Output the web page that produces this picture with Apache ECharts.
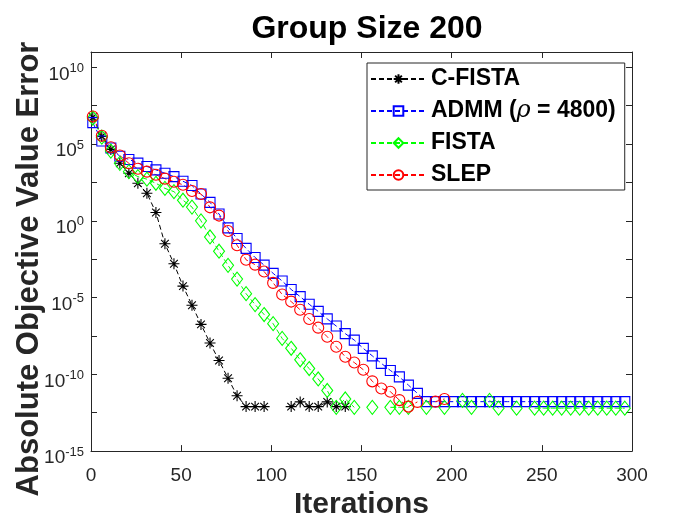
<!DOCTYPE html>
<html><head><meta charset="utf-8">
<script src="https://cdn.jsdelivr.net/npm/echarts@6/dist/echarts.min.js"></script>
<style>html,body{margin:0;padding:0;background:#fff}#c{width:700px;height:525px}</style>
</head><body><div id="c"></div>
<script>
// Iteration numbers at which markers are drawn
const iterations = [1,6,11,16,21,26,31,36,41,46,51,56,61,66,71,76,81,86,91,96,
  101,106,111,116,121,126,131,136,141,146,151,156,161,166,171,176,181,186,191,196,
  201,206,211,216,221,226,231,236,241,246,251,256,261,266,271,276,281,286,291,296];

// Absolute objective value error (null = not plotted, e.g. exactly zero)
const cfista = [5.6e6,3.2e5,4.5e4,5.6e3,1.26e3,280,63,3.5,3.2e-2,1.6e-3,
  5.6e-5,3.2e-6,1.8e-7,1.1e-8,7.9e-10,5.6e-11,4.0e-12,7.9e-13,7.9e-13,7.9e-13,
  null,null,7.9e-13,1.6e-12,7.9e-13,7.9e-13,1.6e-12,7.9e-13,7.9e-13];

const admm = [2.5e6,1.6e5,5.6e4,1.6e4,1.0e4,5.8e3,3.5e3,2.1e3,1.26e3,760,
  380,200,56,16,2.8,0.35,7.1e-2,1.6e-2,4.1e-3,1.3e-3,
  3.8e-4,1.2e-4,3.4e-5,1.15e-5,3.7e-6,1.26e-6,4.1e-7,1.4e-7,4.5e-8,1.7e-8,
  4.9e-9,1.6e-9,5.2e-10,1.8e-10,6.8e-11,2.0e-11,5.8e-12,1.66e-12,1.66e-12,1.66e-12,
  1.66e-12,1.66e-12,1.66e-12,1.66e-12,1.66e-12,1.66e-12,1.66e-12,1.66e-12,1.66e-12,1.66e-12,
  1.66e-12,1.66e-12,1.66e-12,1.66e-12,1.66e-12,1.66e-12,1.66e-12,1.66e-12,1.66e-12,1.66e-12];

const fista = [5.0e6,2.8e5,3.5e4,5.6e3,1.6e3,760,520,280,130,80,
  22,7.9,1.0,8.9e-2,1.05e-2,1.26e-3,1.6e-4,1.8e-5,3.5e-6,7.9e-7,
  2.0e-7,2.2e-8,5.0e-9,8.9e-10,2.4e-10,5.0e-11,8.9e-12,7.1e-13,2.5e-12,7.1e-13,
  null,7.1e-13,null,7.1e-13,7.1e-13,7.1e-13,null,7.1e-13,null,7.1e-13,
  null,2.0e-12,7.1e-13,null,2.0e-12,6.3e-13,null,6.3e-13,null,6.3e-13,
  6.3e-13,6.3e-13,6.3e-13,6.3e-13,6.3e-13,6.3e-13,6.3e-13,6.3e-13,6.3e-13,6.3e-13];

const slep = [6.3e6,3.5e5,6.3e4,1.8e4,5.6e3,2.5e3,1.6e3,1.0e3,560,355,
  224,89,56,7.6,2.2,0.22,2.6e-2,2.9e-3,1.4e-3,5.0e-4,
  9.1e-5,1.6e-5,5.5e-6,1.6e-6,4.0e-7,1.1e-7,2.8e-8,6.3e-9,1.4e-9,5.9e-10,
  2.0e-10,3.5e-11,1.2e-11,7.4e-12,2.1e-12,7.9e-13,1.6e-12,null,1.66e-12,2.5e-12];

const seriesNames = ['C-FISTA','ADMM (\u03c1 = 4800)','FISTA','SLEP'];
const xTicks = [0,50,100,150,200,250,300];
const yExponentTicks = [-15,-10,-5,0,5,10];

const FONT = '"Liberation Sans", Arial, sans-serif';
const AX = '#262626';
const starPath = 'path://M0,-10L0,10M-10,0L10,0M-7,-7L7,7M-7,7L7,-7';

function pairs(vals){ return vals.map((v,i)=>[iterations[i], v]); }

function mk(name, vals, color, symbol, size){
  return {
    name, type:'line', xAxisIndex:0, yAxisIndex:0, data:pairs(vals),
    symbol, symbolSize:size, showAllSymbol:true, connectNulls:false,
    lineStyle:{color, width:1, type:[5,3]},
    itemStyle:{color:'none', borderColor:color, borderWidth:1.1},
    emphasis:{disabled:true}, animation:false, z:2
  };
}

const chart = echarts.init(document.getElementById('c'), null, {renderer:'canvas'});
chart.setOption({
  animation:false,
  backgroundColor:'#fff',
  title:{text:'Group Size 200', left:362, textAlign:'center', top:8,
    textStyle:{fontSize:32, fontWeight:'bold', color:'#000', fontFamily:FONT}},
  grid:{left:91, right:68, top:52, bottom:68, containLabel:false},
  legend:{
    left:367, top:63, orient:'vertical', padding:[3,9,2,3], itemGap:6,
    itemWidth:55, itemHeight:12, borderColor:AX, borderWidth:1, backgroundColor:'#fff',
    data:seriesNames,
    textStyle:{fontSize:23, fontWeight:'bold', color:'#000', fontFamily:FONT, lineHeight:26,
      rich:{
        n:{fontSize:23, fontWeight:'bold', color:'#000', fontFamily:FONT, lineHeight:26},
        r:{fontSize:24, fontStyle:'italic', fontWeight:'normal', color:'#000', fontFamily:'"DejaVu Serif", "Liberation Serif", serif', lineHeight:26}
      }},
    formatter:function(name){
      if (name === seriesNames[1]) return '{n|ADMM (}{r|\u03c1}{n| = 4800)}';
      return '{n|' + name + '}';
    }
  },
  xAxis:[
    {type:'value', position:'bottom', min:xTicks[0], max:xTicks[xTicks.length-1], interval:50,
     axisLine:{show:true, onZero:false, lineStyle:{color:AX, width:1}},
     axisTick:{show:true, inside:true, length:6, lineStyle:{color:AX}},
     axisLabel:{fontSize:19, color:AX, margin:15, fontFamily:FONT},
     splitLine:{show:false},
     name:'Iterations', nameLocation:'middle', nameGap:35,
     nameTextStyle:{fontSize:30, fontWeight:'bold', color:AX, fontFamily:FONT}},
    {type:'value', position:'top', min:0, max:300, interval:50,
     axisLine:{show:true, onZero:false, lineStyle:{color:AX, width:1}},
     axisTick:{show:true, inside:true, length:6, lineStyle:{color:AX}},
     axisLabel:{show:false}, splitLine:{show:false}}
  ],
  yAxis:[
    {type:'log', logBase:10, min:1e-15, max:1e11, position:'left',
     axisLine:{show:true, onZero:false, lineStyle:{color:AX, width:1}},
     axisTick:{show:false}, axisLabel:{show:false}, splitLine:{show:false}, minorTick:{show:false}},
    {type:'value', position:'left', min:-15, max:11, interval:2.5,
     axisLine:{show:false, onZero:false},
     axisTick:{show:true, inside:true, length:6, lineStyle:{color:AX}},
     splitLine:{show:false},
     axisLabel:{margin:7, color:AX, fontFamily:FONT, padding:[14,0,0,0],
       formatter:function(v){
         if (yExponentTicks.indexOf(Math.round(v*100)/100) < 0) return '';
         return '{b|10}{s|' + v + '}';
       },
       rich:{
         b:{fontSize:19, color:AX, fontFamily:FONT},
         s:{fontSize:13, color:AX, fontFamily:FONT, padding:[0,0,12,0]}
       }}},
    {type:'value', position:'right', min:-15, max:11, interval:2.5,
     axisLine:{show:true, onZero:false, lineStyle:{color:AX, width:1}},
     axisTick:{show:true, inside:true, length:6, lineStyle:{color:AX}},
     axisLabel:{show:false}, splitLine:{show:false}}
  ],
  graphic:[{type:'text', x:29, y:269, rotation:Math.PI/2,
    style:{text:'Absolute Objective Value Error', fontSize:31, fontWeight:'bold',
      fontFamily:FONT, fill:AX, align:'center', verticalAlign:'middle'}}],
  series:[
    mk(seriesNames[0], cfista, '#000000', starPath, 11),
    mk(seriesNames[1], admm, '#0000ff', 'rect', 10),
    mk(seriesNames[2], fista, '#00ff00', 'diamond', [11,14]),
    mk(seriesNames[3], slep, '#ff0000', 'circle', 11)
  ]
});
</script></body></html>
